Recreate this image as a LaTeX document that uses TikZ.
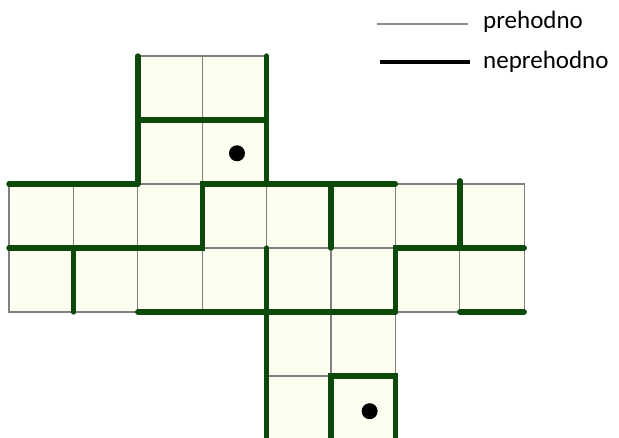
\documentclass[tikz,border=0pt]{standalone}
\usepackage{fontspec}
\setmainfont{Carlito}
\definecolor{cellfill}{HTML}{FEFEF0}
\definecolor{wallgreen}{HTML}{0B4A0B}
\definecolor{thingray}{HTML}{808080}
\tikzset{
  cellbox/.style={fill=cellfill, draw=thingray, line width=1.3pt},
  wall/.style={draw=wallgreen, line width=5.4pt, line cap=round},
  dot/.style={circle, fill=black, inner sep=0pt, minimum size=16pt},
  legtext/.style={anchor=base west, inner sep=0pt, font=\fontsize{25}{30}\selectfont},
}
\begin{document}
\begin{tikzpicture}[x=1pt, y=-1pt]
\useasboundingbox (0,0) rectangle (619,437);
\clip (0,0) rectangle (619,437);
\begin{scope}[shift={(9,56)}, x=64.4pt, y=-64pt]
  % cells
  \foreach \c in {2,3} \foreach \r in {0,1} \draw[cellbox] (\c,\r) rectangle ++(1,1);
  \foreach \c in {0,...,7} \foreach \r in {2,3} \draw[cellbox] (\c,\r) rectangle ++(1,1);
  \foreach \c in {4,5} \foreach \r in {4,5} \draw[cellbox] (\c,\r) rectangle ++(1,1);
  % walls
  \draw[wall] (2,2) -- (2,0);
  \draw[wall] (4,0) -- (4,2);
  \draw[wall] (2,1) -- (4,1);
  \draw[wall] (0,2) -- (2,2);
  \draw[wall] (0,3) -- (3,3) -- (3,2) -- (6,2);
  \draw[wall] (5,2) -- (5,3);
  \draw[wall] (7,1.95) -- (7,3);
  \draw[wall] (6,4) -- (6,3) -- (8,3);
  \draw[wall] (1,3) -- (1,4);
  \draw[wall] (2,4) -- (6,4);
  \draw[wall] (7,4) -- (8,4);
  \draw[wall] (4,3) -- (4,6.2);
  \draw[wall] (5,6.2) -- (5,5) -- (6,5) -- (6,6.2);
  % dots
  \node[dot] (d1) at (3.54,1.52) {};
  \node[dot] (d2) at (5.6,5.55) {};
\end{scope}
% legend
\coordinate (g1) at (377,24);
\coordinate (g2) at (468,24);
\coordinate (b1) at (380,62);
\coordinate (b2) at (470,62);
\draw[thingray!90, line width=2pt] (g1) -- (g2);
\draw[black, line width=3.8pt] (b1) -- (b2);
\node[legtext] (t1) at (483,28) {prehodno};
\node[legtext] (t2) at (483,68) {neprehodno};
\end{tikzpicture}
\end{document}
